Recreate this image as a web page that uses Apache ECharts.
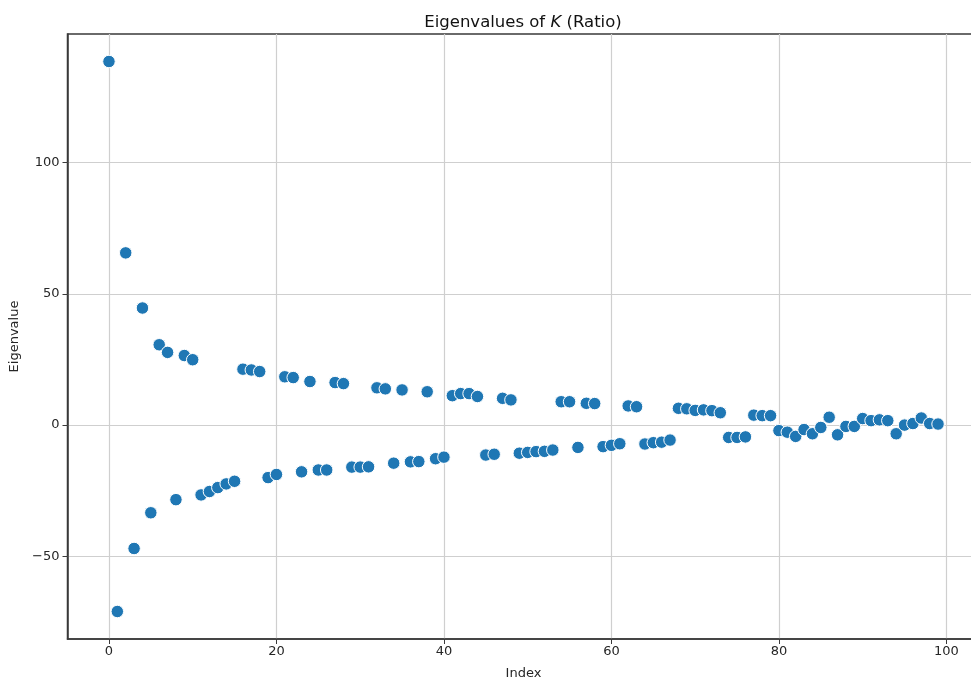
<!DOCTYPE html>
<html>
<head>
<meta charset="utf-8">
<title>Eigenvalues of K (Ratio)</title>
<script src="https://cdn.jsdelivr.net/npm/echarts@6/dist/echarts.min.js"></script>
<style>
  html, body { margin: 0; padding: 0; background: #ffffff; }
  #chart { width: 971px; height: 680px; }
</style>
</head>
<body>
<div id="chart"></div>
<script>
// Eigenvalues of K, in index order
const eigenvalues = [
  138.5, -71.0, 65.6, -47.0, 44.6, -33.4, 30.6, 27.7, -28.4, 26.5,
  24.9, -26.6, -25.3, -23.8, -22.4, -21.4, 21.3, 21.0, 20.4, -20.0,
  -18.8, 18.4, 18.1, -17.8, 16.6, -17.1, -17.1, 16.2, 15.8, -16.0,
  -16.0, -15.9, 14.2, 13.8, -14.5, 13.4, -14.0, -13.9, 12.7, -12.8,
  -12.2, 11.2, 12.0, 12.0, 10.9, -11.4, -11.1, 10.2, 9.6, -10.7,
  -10.4, -10.1, -10.0, -9.5, 8.9, 8.9, -8.5, 8.3, 8.2, -8.2,
  -7.7, -7.1, 7.3, 7.0, -7.2, -6.7, -6.5, -5.7, 6.4, 6.2,
  5.6, 5.8, 5.5, 4.7, -4.7, -4.7, -4.5, 3.8, 3.6, 3.6,
  -2.1, -2.7, -4.3, -1.7, -3.3, -0.9, 3.0, -3.7, -0.5, -0.5,
  2.5, 1.7, 2.0, 1.7, -3.3, 0.0, 0.6, 2.7, 0.6, 0.4
];

// Tick positions on each axis
const xTicks = [0, 20, 40, 60, 80, 100];
const yTicks = [-50, 0, 50, 100];

const points = eigenvalues.map((v, i) => [i, v]);

// 5% padding around the data range on both axes
function padded(lo, hi) {
  const pad = (hi - lo) * 0.05;
  return [lo - pad, hi + pad];
}
const [xMin, xMax] = padded(0, eigenvalues.length - 1);
const [yMin, yMax] = padded(Math.min(...eigenvalues), Math.max(...eigenvalues));

// Tick labels use a true minus sign
const fmtTick = v => String(v).replace('-', '\u2212');

const FONT = 'DejaVu Sans';
const TEXT = '#262626';
const SPINE = '#3a3a3a';
const GRID = '#cfcfcf';

const chart = echarts.init(document.getElementById('chart'), null, { renderer: 'canvas' });

chart.setOption({
  animation: false,
  backgroundColor: '#ffffff',
  title: {
    text: '{a|Eigenvalues of }{k|K}{a| (Ratio)}',
    left: 518,
    top: 9,
    textAlign: 'center',
    textStyle: {
      fontWeight: 'normal',
      rich: {
        a: { fontFamily: FONT, fontSize: 16.5, fontWeight: 'normal', color: '#111111' },
        k: { fontFamily: FONT, fontSize: 16.5, fontWeight: 'normal', fontStyle: 'italic', color: '#111111' }
      }
    }
  },
  grid: {
    left: 67.5,
    top: 34,
    width: 912,
    height: 605,
    outerBoundsMode: 'none',
    containLabel: false,
    show: true,
    borderColor: SPINE,
    borderWidth: 1.5,
    backgroundColor: 'transparent'
  },
  xAxis: {
    type: 'value',
    min: xMin,
    max: xMax,
    name: 'Index',
    nameLocation: 'middle',
    nameGap: 28,
    nameTextStyle: { fontFamily: FONT, fontSize: 13, color: TEXT },
    axisLine: { show: true, onZero: false, lineStyle: { color: SPINE, width: 1.5 } },
    axisTick: { show: true, length: 5, customValues: xTicks, lineStyle: { color: SPINE, width: 1 } },
    axisLabel: { customValues: xTicks, formatter: fmtTick, margin: 6, fontFamily: FONT, fontSize: 13, color: TEXT },
    splitLine: { show: true, lineStyle: { color: GRID, width: 1.2 } }
  },
  yAxis: {
    type: 'value',
    min: yMin,
    max: yMax,
    name: 'Eigenvalue',
    nameLocation: 'middle',
    nameGap: 46,
    nameRotate: 90,
    nameTextStyle: { fontFamily: FONT, fontSize: 13, color: TEXT },
    axisLine: { show: true, onZero: false, lineStyle: { color: SPINE, width: 1.5 } },
    axisTick: { show: true, length: 5, customValues: yTicks, lineStyle: { color: SPINE, width: 1 } },
    axisLabel: { customValues: yTicks, formatter: fmtTick, margin: 8, fontFamily: FONT, fontSize: 13, color: TEXT },
    splitLine: { show: true, lineStyle: { color: GRID, width: 1.2 } }
  },
  series: [{
    type: 'scatter',
    data: points,
    symbol: 'circle',
    symbolSize: 12.5,
    itemStyle: { color: '#1f77b4', borderColor: '#ffffff', borderWidth: 1, opacity: 1 },
    emphasis: { disabled: true },
    z: 5
  }]
});
</script>
</body>
</html>
